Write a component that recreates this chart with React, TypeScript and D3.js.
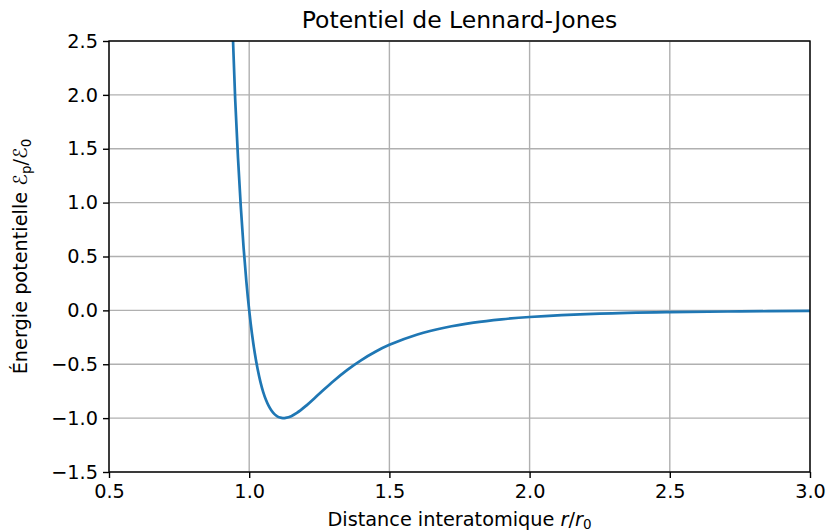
import React, { useEffect, useRef } from 'react';
import * as d3 from 'd3';

// reduced distance r/r0 and reduced energy
const distances = [0.93, 0.94, 0.95, 0.96, 0.97, 0.98, 0.99, 1.0, 1.01, 1.02, 1.03, 1.04, 1.05, 1.06, 1.07, 1.08, 1.09, 1.1, 1.11, 1.12, 1.13, 1.15, 1.17, 1.2, 1.25, 1.3, 1.35, 1.4, 1.45, 1.5, 1.6, 1.7, 1.8, 1.9, 2.0, 2.25, 2.5, 2.75, 3.0];
const energies = [3.373, 2.676, 1.961, 1.418, 0.963, 0.582, 0.264, 0.0, -0.219, -0.398, -0.544, -0.663, -0.758, -0.832, -0.889, -0.932, -0.963, -0.983, -0.995, -1.0, -0.998, -0.982, -0.952, -0.891, -0.774, -0.657, -0.552, -0.461, -0.384, -0.32, -0.224, -0.159, -0.114, -0.083, -0.0615, -0.0308, -0.0163, -0.0093, -0.0055];
const xTicks = [0.5, 1.0, 1.5, 2.0, 2.5, 3.0];
const yTicks = [-1.5, -1.0, -0.5, 0.0, 0.5, 1.0, 1.5, 2.0, 2.5];

const W = 827;
const H = 532;
const margin = { top: 41, right: 17, bottom: 60, left: 109 };
const font = 'DejaVu Sans, sans-serif';

const App = () => {
  const svgRef = useRef<SVGSVGElement>(null);

  useEffect(() => {
    const svg = d3.select(svgRef.current);
    svg.selectAll('*').remove();

    const x = d3.scaleLinear().domain([0.5, 3.0]).range([margin.left, W - margin.right]);
    const y = d3.scaleLinear().domain([-1.5, 2.5]).range([H - margin.bottom, margin.top]);
    const fmt = (v: number) => d3.format('.1f')(v).replace('-', '\u2212');

    svg.append('defs').append('clipPath').attr('id', 'plot')
      .append('rect')
      .attr('x', margin.left).attr('y', margin.top)
      .attr('width', W - margin.left - margin.right)
      .attr('height', H - margin.top - margin.bottom);

    // grid
    const grid = svg.append('g').attr('stroke', '#b0b0b0').attr('stroke-width', 1.4);
    grid.selectAll('.gx').data(xTicks).enter().append('line')
      .attr('x1', (d) => x(d)).attr('x2', (d) => x(d))
      .attr('y1', margin.top).attr('y2', H - margin.bottom);
    grid.selectAll('.gy').data(yTicks).enter().append('line')
      .attr('y1', (d) => y(d)).attr('y2', (d) => y(d))
      .attr('x1', margin.left).attr('x2', W - margin.right);

    // curve
    const pts = distances.map((r, i) => [r, energies[i]] as [number, number]);
    const line = d3.line<[number, number]>()
      .x((d) => x(d[0]))
      .y((d) => y(d[1]))
      .curve(d3.curveCatmullRom.alpha(0.5));
    svg.append('path')
      .datum(pts)
      .attr('clip-path', 'url(#plot)')
      .attr('d', line)
      .attr('fill', 'none')
      .attr('stroke', '#1f77b4')
      .attr('stroke-width', 2.7)
      .attr('stroke-linecap', 'square');

    // axes
    const xAxis = svg.append('g')
      .attr('transform', `translate(0,${H - margin.bottom})`)
      .call(d3.axisBottom(x).tickValues(xTicks).tickFormat((d) => fmt(d as number)).tickSize(6).tickPadding(6));
    const yAxis = svg.append('g')
      .attr('transform', `translate(${margin.left},0)`)
      .call(d3.axisLeft(y).tickValues(yTicks).tickFormat((d) => fmt(d as number)).tickSize(6).tickPadding(5));
    [xAxis, yAxis].forEach((a) => {
      a.select('.domain').remove();
      a.selectAll('line').attr('stroke', '#000').attr('stroke-width', 1.4);
      a.selectAll('text').attr('font-family', font).attr('font-size', 19.3).attr('fill', '#000');
    });

    // frame
    svg.append('rect')
      .attr('x', margin.left).attr('y', margin.top)
      .attr('width', W - margin.left - margin.right)
      .attr('height', H - margin.bottom - margin.top)
      .attr('fill', 'none').attr('stroke', '#000').attr('stroke-width', 1.4);

    // title
    svg.append('text')
      .attr('x', (margin.left + W - margin.right) / 2).attr('y', 28)
      .attr('text-anchor', 'middle')
      .attr('font-family', font).attr('font-size', 23.5)
      .text('Potentiel de Lennard-Jones');

    // x label
    const xl = svg.append('text')
      .attr('x', (margin.left + W - margin.right) / 2).attr('y', 526)
      .attr('text-anchor', 'middle')
      .attr('font-family', font).attr('font-size', 19.3);
    xl.append('tspan').text('Distance interatomique ');
    xl.append('tspan').attr('font-style', 'italic').text('r');
    xl.append('tspan').text('/');
    xl.append('tspan').attr('font-style', 'italic').text('r');
    xl.append('tspan').attr('font-size', 13.5).attr('dy', 3).text('0');

    // y label
    const yl = svg.append('text')
      .attr('transform', `translate(27,${(margin.top + H - margin.bottom) / 2}) rotate(-90)`)
      .attr('text-anchor', 'middle')
      .attr('font-family', font).attr('font-size', 19.3);
    yl.append('tspan').text('Énergie potentielle ');
    yl.append('tspan').text('\u2130');
    yl.append('tspan').attr('font-size', 13.5).attr('dy', 4).text('p');
    yl.append('tspan').attr('dy', -4).text('/\u2130');
    yl.append('tspan').attr('font-size', 13.5).attr('dy', 4).text('0');
  }, []);

  return (
    <svg
      ref={svgRef}
      width={W}
      height={H}
      style={{ position: 'absolute', left: 0, top: 0, background: '#fff' }}
    />
  );
};

export default App;
